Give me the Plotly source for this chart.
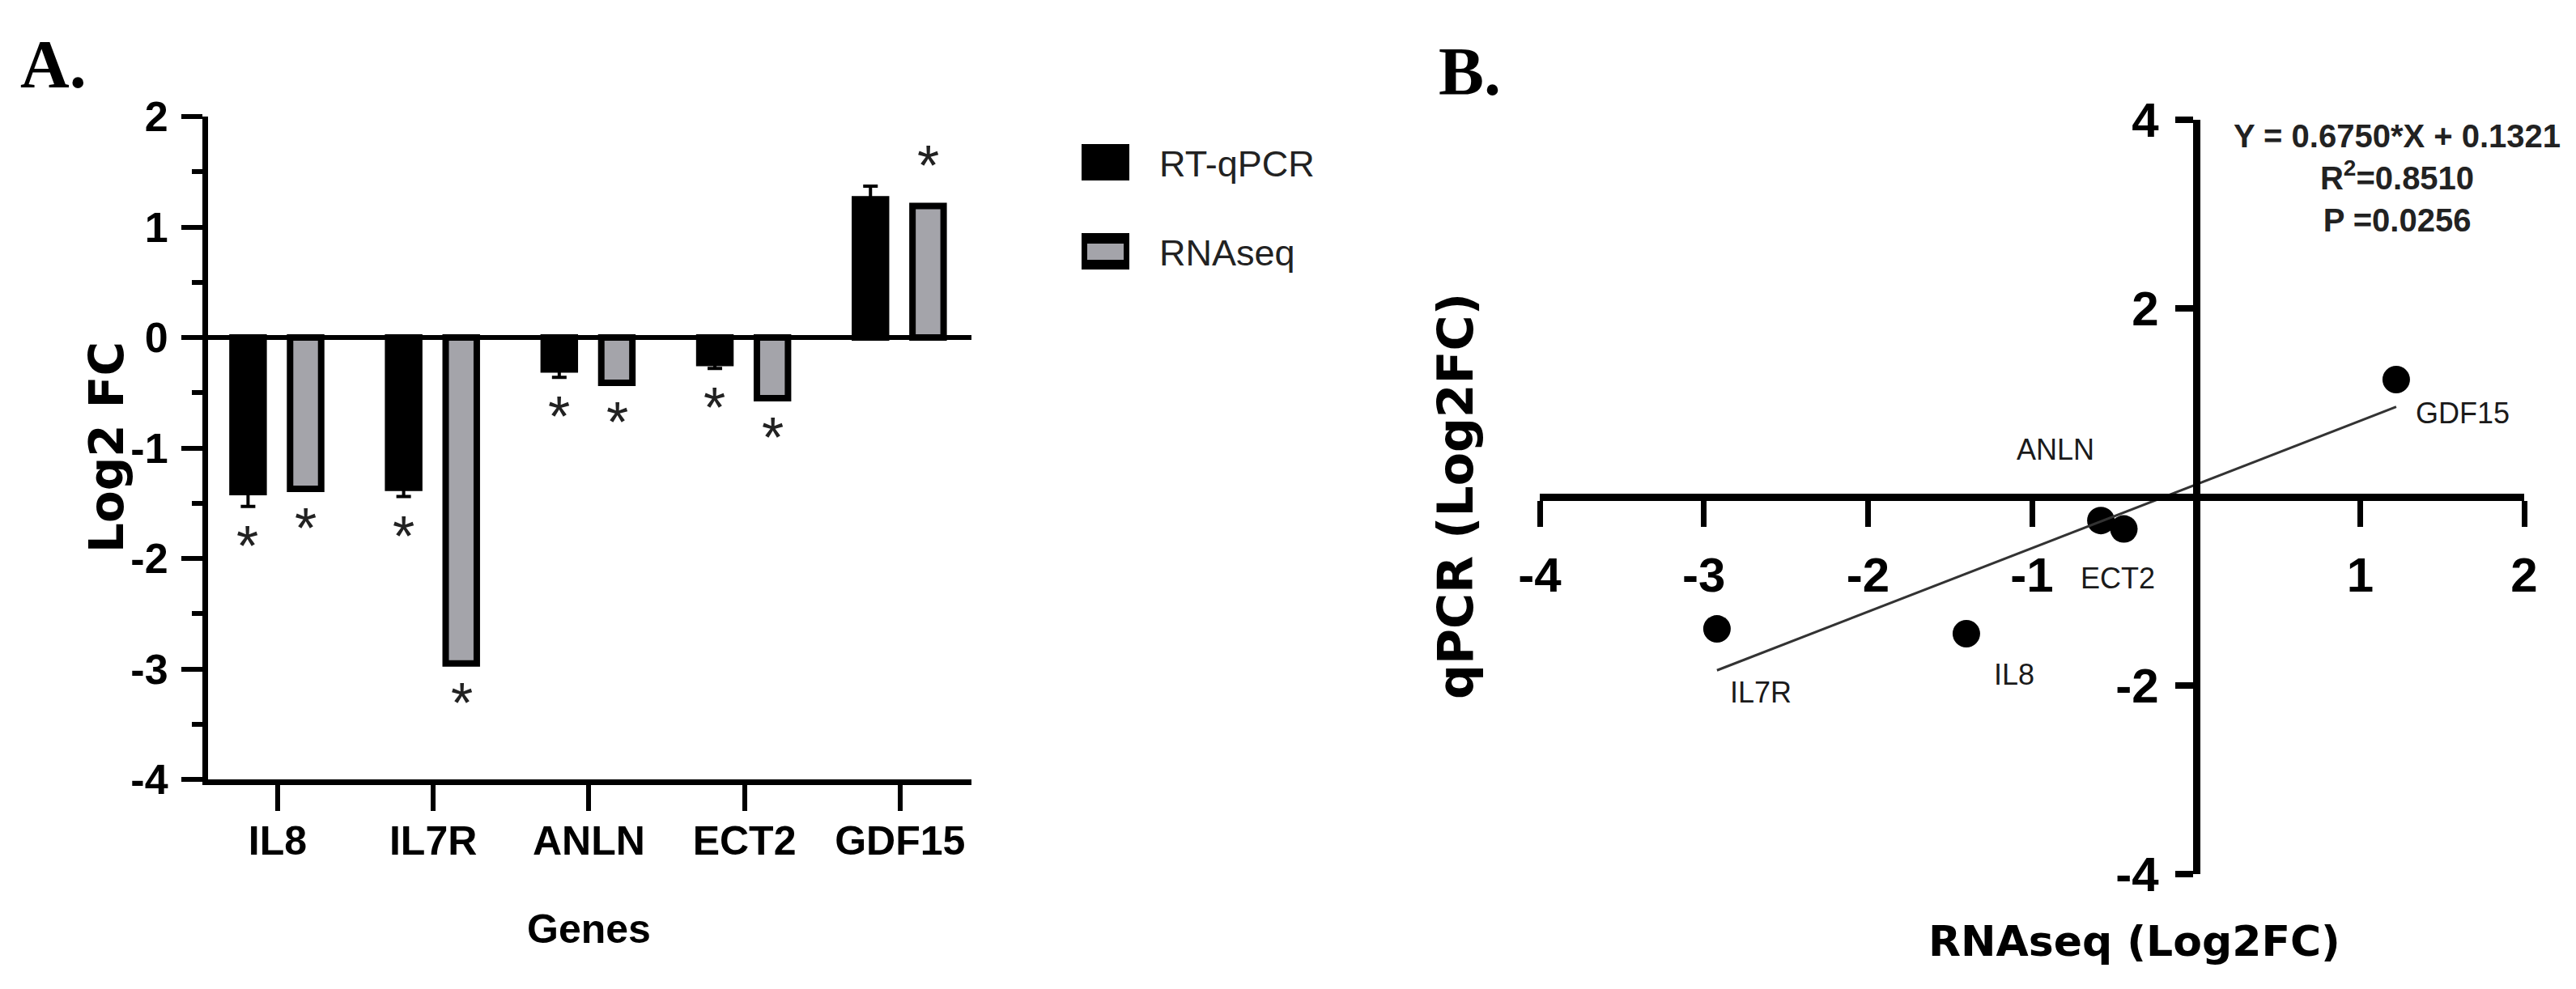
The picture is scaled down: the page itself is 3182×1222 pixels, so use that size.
import plotly.graph_objects as go

W, H = 3182, 1222

# ---- data -----------------------------------------------------------------
genes = ["IL8", "IL7R", "ANLN", "ECT2", "GDF15"]

rt_qpcr = [-1.40, -1.36, -0.29, -0.23, 1.25]
rt_qpcr_err = [0.13, 0.08, 0.07, 0.05, 0.12]
rnaseq = [-1.37, -2.95, -0.41, -0.55, 1.19]

sig_rt = [True, True, True, True, False]
sig_rnaseq = [True, True, True, True, True]

# panel B
scatter_rnaseq = [-1.40, -2.92, -0.44, -0.58, 1.22]
scatter_qpcr = [-1.45, -1.40, -0.34, -0.25, 1.245]

slope = 0.6750
intercept = 0.1321
r_squared = 0.8510
p_value = 0.0256

a_yticks = [-4, -3, -2, -1, 0, 1, 2]
b_xticks = [-4, -3, -2, -1, 1, 2]
b_yticks = [-4, -2, 2, 4]

# ---- styles ---------------------------------------------------------------
SANS = "Liberation Sans, Arial, sans-serif"
WIDE = "DejaVu Sans, Verdana, sans-serif"
SERIF = "Liberation Serif, Times New Roman, serif"
GRAY = "#a4a4aa"


def px(x):
    return x / W


def py(y):
    return 1 - y / H


def lab(v):
    return str(v).replace("\u2212", "-")


def note(x, y, text, font, **kw):
    d = dict(x=x, y=y, xref="paper", yref="paper", text=text, showarrow=False,
             xanchor="center", yanchor="middle", font=font)
    d.update(kw)
    return d


fig = go.Figure()

# Panel A bars
fig.add_trace(
    go.Bar(
        x=genes,
        y=rt_qpcr,
        width=0.2,
        offset=-0.29,
        marker=dict(color="black", line=dict(color="black", width=8)),
        error_y=dict(
            type="data",
            symmetric=False,
            array=[e if v > 0 else 0 for v, e in zip(rt_qpcr, rt_qpcr_err)],
            arrayminus=[e if v < 0 else 0 for v, e in zip(rt_qpcr, rt_qpcr_err)],
            color="black",
            thickness=4,
            width=9,
        ),
        name="RT-qPCR",
        xaxis="x",
        yaxis="y",
    )
)
fig.add_trace(
    go.Bar(
        x=genes,
        y=rnaseq,
        width=0.2,
        offset=0.08,
        marker=dict(color=GRAY, line=dict(color="black", width=8)),
        name="RNAseq",
        xaxis="x",
        yaxis="y",
    )
)

annotations = []

# significance stars
STAR_GAP = 0.36
star_font = dict(family=SANS, size=70, color="#222")
for g, v, e, s in zip(genes, rt_qpcr, rt_qpcr_err, sig_rt):
    if s:
        end = v + e if v > 0 else v - e
        annotations.append(dict(
            x=g, y=end + (STAR_GAP if v > 0 else -STAR_GAP), xref="x", yref="y",
            xshift=-37, text="*", showarrow=False, font=star_font,
            xanchor="center", yanchor="middle",
        ))
for g, v, s in zip(genes, rnaseq, sig_rnaseq):
    if s:
        annotations.append(dict(
            x=g, y=v + (STAR_GAP if v > 0 else -STAR_GAP), xref="x", yref="y",
            xshift=35, text="*", showarrow=False, font=star_font,
            xanchor="center", yanchor="middle",
        ))

# Panel B scatter + fit line
fig.add_trace(
    go.Scatter(
        x=scatter_rnaseq,
        y=scatter_qpcr,
        mode="markers",
        marker=dict(color="black", size=34),
        xaxis="x2",
        yaxis="y2",
    )
)
fit_x = [min(scatter_rnaseq), max(scatter_rnaseq)]
fig.add_trace(
    go.Scatter(
        x=fit_x,
        y=[slope * x + intercept for x in fit_x],
        mode="lines",
        line=dict(color="#333", width=3),
        xaxis="x2",
        yaxis="y2",
    )
)

label_shift = {
    "IL8": (59, -51),
    "IL7R": (54, -78),
    "ANLN": (-84, 98),
    "ECT2": (21, -71),
    "GDF15": (82, -42),
}
for g, x, y in zip(genes, scatter_rnaseq, scatter_qpcr):
    dx, dy = label_shift[g]
    annotations.append(dict(
        x=x, y=y, xref="x2", yref="y2", xshift=dx, yshift=dy,
        text=g, showarrow=False, xanchor="center", yanchor="middle",
        font=dict(family=SANS, size=36, color="#1a1a1a"),
    ))

annotations.append(note(
    px(2953), py(212),
    f"Y = {slope:.4f}*X + {intercept:.4f}<br>R<sup>2</sup>={r_squared:.4f}<br>P ={p_value:.4f}",
    dict(family=SANS, size=40, color="#222", weight="bold"), align="center",
))

# panel letters and axis titles
annotations += [
    note(px(15), py(72), "<b>A.</b>", dict(family=SERIF, size=84, color="black"),
         xanchor="left"),
    note(px(1767), py(81), "<b>B.</b>", dict(family=SERIF, size=84, color="black"),
         xanchor="left"),
    note(px(124), py(545), "<b>Log2 FC</b>",
         dict(family=WIDE, size=58, color="black"), textangle=-90),
    note(px(719), py(1140), "<b>Genes</b>",
         dict(family=SANS, size=50, color="black")),
    note(px(1790), py(605), "<b>qPCR (Log2FC)</b>",
         dict(family=WIDE, size=60, color="black"), textangle=-90),
    note(px(2628), py(1155), "<b>RNAseq (Log2FC)</b>",
         dict(family=WIDE, size=52, color="black")),
]

# manual legend
shapes = [
    dict(type="rect", xref="paper", yref="paper", x0=px(1328), x1=px(1387),
         y0=py(215), y1=py(170), fillcolor="black", line=dict(width=0)),
    dict(type="rect", xref="paper", yref="paper", x0=px(1328), x1=px(1387),
         y0=py(325), y1=py(280), fillcolor="black", line=dict(width=0)),
    dict(type="rect", xref="paper", yref="paper", x0=px(1335), x1=px(1380),
         y0=py(313), y1=py(293), fillcolor=GRAY, line=dict(width=0)),
]
annotations += [
    note(px(1422), py(194), "RT-qPCR", dict(family=SANS, size=45, color="#222"),
         xanchor="left"),
    note(px(1422), py(304), "RNAseq", dict(family=SANS, size=45, color="#222"),
         xanchor="left"),
]

# axes geometry
xa_dom = [px(249), px(1192)]
ya_dom = [py(955), py(136)]
xb_dom = [px(1894), px(3110)]
yb_dom = [py(1072), py(140)]
xb_range = [-4, 2]
yb_range = [-4, 4]
xb_pos = yb_dom[0] + (0 - yb_range[0]) / (yb_range[1] - yb_range[0]) * (yb_dom[1] - yb_dom[0])
yb_pos = xb_dom[0] + (0 - xb_range[0]) / (xb_range[1] - xb_range[0]) * (xb_dom[1] - xb_dom[0])

tick_font_a = dict(family=SANS, size=50, color="black", weight="bold")
tick_font_ay = dict(family=SANS, size=52, color="black", weight="bold")
tick_font_b = dict(family=SANS, size=60, color="black", weight="bold")

fig.update_layout(
    width=W,
    height=H,
    margin=dict(l=0, r=0, t=0, b=0),
    paper_bgcolor="white",
    plot_bgcolor="rgba(0,0,0,0)",
    showlegend=False,
    barmode="overlay",
    xaxis=dict(
        domain=xa_dom, anchor="y", type="category", range=[-0.447, 4.459],
        showline=True, linecolor="black", linewidth=7,
        ticks="outside", ticklen=32, tickwidth=6, tickcolor="black",
        tickfont=tick_font_a, ticklabelstandoff=-6,
        showgrid=False, zeroline=False, automargin=False,
    ),
    yaxis=dict(
        domain=ya_dom, anchor="x", range=[-4, 2],
        tickvals=a_yticks, ticktext=[lab(v) for v in a_yticks],
        showline=True, linecolor="black", linewidth=7,
        ticks="outside", ticklen=26, tickwidth=6, tickcolor="black",
        minor=dict(tickmode="linear", tick0=0, dtick=0.5, ticks="outside",
                   ticklen=13, tickwidth=6, tickcolor="black", showgrid=False),
        tickfont=tick_font_ay, ticklabelstandoff=6,
        showgrid=False, zeroline=True, zerolinecolor="black", zerolinewidth=6,
        automargin=False,
    ),
    xaxis2=dict(
        domain=xb_dom, anchor="free", position=xb_pos, range=xb_range,
        tickvals=b_xticks, ticktext=[lab(v) for v in b_xticks],
        showline=True, linecolor="black", linewidth=9,
        ticks="outside", ticklen=32, tickwidth=7, tickcolor="black",
        tickfont=tick_font_b, ticklabelstandoff=8,
        showgrid=False, zeroline=False, automargin=False,
    ),
    yaxis2=dict(
        domain=yb_dom, anchor="free", position=yb_pos, range=yb_range,
        tickvals=b_yticks, ticktext=[lab(v) for v in b_yticks],
        showline=True, linecolor="black", linewidth=9,
        ticks="outside", ticklen=22, tickwidth=8, tickcolor="black",
        tickfont=tick_font_b, ticklabelstandoff=8,
        showgrid=False, zeroline=False, automargin=False,
    ),
    annotations=annotations,
    shapes=shapes,
)

fig.write_html("out.html")
